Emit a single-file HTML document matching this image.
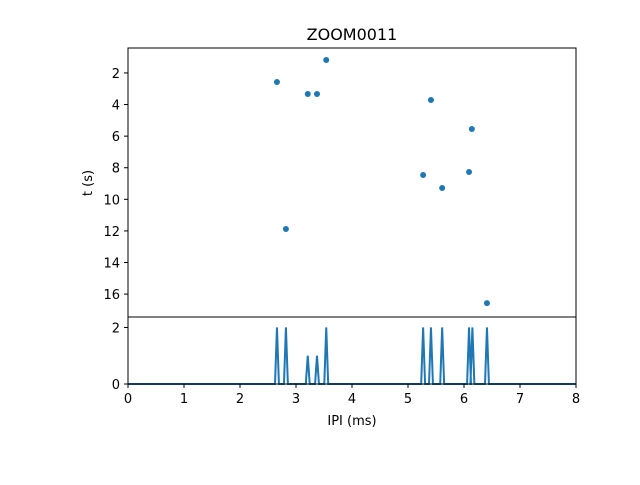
<!DOCTYPE html>
<html><head><meta charset="utf-8"><style>
body{margin:0;background:#fff;font-family:"Liberation Sans","DejaVu Sans",sans-serif}
svg text{font-family:"DejaVu Sans","Liberation Sans",sans-serif;font-size:13px;fill:#000}
</style></head><body>
<svg id="c" width="640" height="480"></svg>
<script>
const ipiX=[2.66,3.54,3.21,3.375,5.41,6.14,5.27,5.61,6.09,2.82,6.41];
const tY=[2.57,1.18,3.33,3.33,3.71,5.55,8.46,9.28,8.27,11.88,16.57];
const histCenters=[2.66,2.82,3.21,3.375,3.54,5.27,5.41,5.61,6.09,6.15,6.41];
const histCounts=[2,2,1,1,2,2,2,2,2,2,2];
const xTicks=[0,1,2,3,4,5,6,7,8];
const yTicksTop=[2,4,6,8,10,12,14,16];
const yTicksBot=[0,2];
const NS="http://www.w3.org/2000/svg";
const svg=document.getElementById('c');
function el(t,a,p){const e=document.createElementNS(NS,t);for(const k in a)e.setAttribute(k,a[k]);(p||svg).appendChild(e);return e;}
const L=128,R=576,T1=48,B1=317,T2=317,B2=384;
const sx=v=>L+(v-0)/8*(R-L);
const tMin=0.42,tMax=17.45;
const syTop=v=>T1+(v-tMin)/(tMax-tMin)*(B1-T1);
const cMax=2.37;
const syBot=v=>B2-v/cMax*(B2-T2);
let t=el('text',{x:352,y:40,'text-anchor':'middle',style:'font-size:16px'});t.textContent='ZOOM0011';


ipiX.forEach((x,i)=>{const c=el('circle',{cx:sx(x),cy:syTop(tY[i]),r:3,fill:'#1f77b4'});

});
let pts=[[0,0]];
const w=0.035;
histCenters.forEach((c,i)=>{pts.push([c-w,0],[c,histCounts[i]],[c+w,0]);});
pts.push([8,0]);
const pl=el('polyline',{points:pts.map(p=>sx(p[0])+','+syBot(p[1])).join(' '),fill:'none',stroke:'#1f77b4','stroke-width':2,'stroke-linejoin':'miter'});


const f1=el('rect',{x:L,y:T1,width:R-L,height:B1-T1,fill:'none',stroke:'#000','stroke-width':1});


const f2=el('rect',{x:L,y:T2,width:R-L,height:B2-T2,fill:'none',stroke:'#000','stroke-width':1});


yTicksTop.forEach(v=>{const y=syTop(v);el('line',{x1:L-4,x2:L,y1:y,y2:y,stroke:'#000'});
const tx=el('text',{x:L-8,y:y+5,'text-anchor':'end'});tx.textContent=v;

});
yTicksBot.forEach(v=>{const y=syBot(v);el('line',{x1:L-4,x2:L,y1:y,y2:y,stroke:'#000'});
const tx=el('text',{x:L-8,y:y+5,'text-anchor':'end'});tx.textContent=v;

});
xTicks.forEach(v=>{const x=sx(v);el('line',{x1:x,x2:x,y1:B2,y2:B2+4,stroke:'#000'});
const tx=el('text',{x:x,y:B2+19,'text-anchor':'middle'});tx.textContent=v;

});
let xl=el('text',{x:352,y:425,'text-anchor':'middle'});xl.textContent='IPI (ms)';


let yl=el('text',{x:92,y:183,'text-anchor':'middle',transform:'rotate(-90 92 183)'});yl.textContent='t (s)';


</script>
</body></html>
